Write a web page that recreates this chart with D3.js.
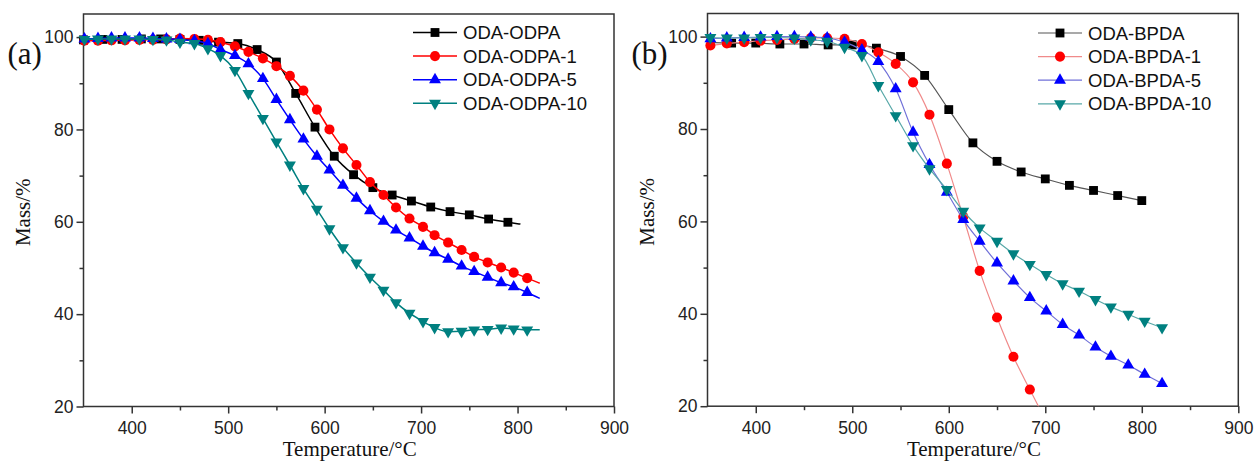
<!DOCTYPE html>
<html><head><meta charset="utf-8">
<script src="https://cdn.jsdelivr.net/npm/d3@7"></script>
<style>body{margin:0;background:#fff} svg{display:block}</style>
</head><body>
<svg id="chart" width="1255" height="461"></svg>
<script>
// ---------- shared axis ticks ----------
const xTicks = [400, 500, 600, 700, 800, 900];
const xMinor = [450, 550, 650, 750, 850];
const yTicks = [20, 40, 60, 80, 100];
const yMinor = [30, 50, 70, 90];

// ---------- panel (a) ----------
const aNames = ["ODA-ODPA", "ODA-ODPA-1", "ODA-ODPA-5", "ODA-ODPA-10"];
const aBlackT = [350,370,390,410,430,450,470,490,510,530,550,570,590,610,630,650,670,690,710,730,750,770,790,803];
const aBlackM = [99.4,99.5,99.5,99.6,99.6,99.5,99.3,98.9,98.6,97.3,94.6,87.8,80.5,74.2,70.2,67.4,65.8,64.5,63.2,62.2,61.5,60.6,59.9,59.5];
const aGridT = [351,365,379,393,408,422,436,450,465,479,492,507,521,536,550,564,578,592,605,619,633,647,661,674,688,702,714,728,742,755,769,783,796,810,823];
const aRedM  = [99.2,99.2,99.3,99.3,99.4,99.4,99.5,99.7,99.6,99.4,98.9,98.0,96.8,95.4,93.7,91.6,88.4,84.3,80.0,75.9,72.3,68.6,65.8,63.1,60.7,58.9,57.1,55.5,53.9,52.4,51.2,50.1,49.0,47.8,46.7];
const aBlueM = [99.6,99.7,99.8,99.8,99.8,99.7,99.6,99.5,99.2,98.6,97.3,96.0,94.2,91.0,86.5,82.1,77.9,74.2,71.2,67.9,65.1,62.4,60.1,58.2,56.5,54.7,53.3,51.9,50.4,49.2,48.0,46.8,45.9,44.7,43.4];
const aTealM = [99.5,99.6,99.6,99.6,99.6,99.5,99.4,98.9,98.6,97.5,96.0,92.8,87.8,82.4,77.3,72.3,67.2,62.7,58.5,54.4,51.1,48.0,45.2,42.5,40.2,38.4,37.1,36.2,36.3,36.6,36.7,37.0,36.8,36.6,36.6];

// ---------- panel (b) ----------
const bNames = ["ODA-BPDA", "ODA-BPDA-1", "ODA-BPDA-5", "ODA-BPDA-10"];
const bBlackT = [350,375,400,425,450,475,500,525,550,575,600,625,650,675,700,725,750,775,800];
const bBlackM = [98.8,98.6,98.6,98.4,98.4,98.2,98.2,97.5,95.7,91.6,84.2,77.0,73.0,70.7,69.2,67.8,66.7,65.6,64.5];
const bGridT = [353,370,388,405,422,440,457,474,492,510,527,545,563,580,598,615,632,650,667,684,701,718,735,752,768,786,803,821];
const bRedT  = [353,370,388,405,422,440,457,474,492,510,527,545,563,580,598,615,632,650,667,684,702];
const bRedM  = [98.1,98.5,98.8,99.1,99.3,99.5,99.7,99.7,99.5,98.4,96.6,94.1,90.1,83.1,72.5,61.0,49.3,39.2,30.7,23.6,16.3];
const bBlueM = [99.5,99.7,99.8,99.9,100.0,100.0,99.9,99.7,98.8,97.1,94.6,88.7,79.3,72.3,66.3,60.4,55.7,51.0,47.1,43.5,40.6,37.7,35.4,32.8,30.8,28.9,26.9,24.9];
const bTealM = [99.8,99.7,99.7,99.8,99.8,99.7,99.3,99.0,97.7,95.9,89.4,82.9,76.4,71.4,66.9,62.2,58.6,55.7,53.0,50.7,48.5,46.5,44.9,43.1,41.5,39.9,38.4,37.0];

const COLORS = ["#000000", "#ff0000", "#0000ff", "#008080"];
const LIGHT = ["#555555", "#f08a8a", "#7070d8", "#58a8a8"];
const SYMS = [d3.symbolSquare, d3.symbolCircle, d3.symbolTriangle, d3.symbolTriangle];
const SIZES = [78, 80, 62, 62];
const ROT = [0, 0, 0, 180];

const svg = d3.select("#chart");
const TICKFONT = "Arial, 'Liberation Sans', sans-serif";
const SERIF = "'Times New Roman', 'Liberation Serif', serif";

function zip(T, M) { return T.map((t, i) => ({t: t, m: M[i]})); }

function drawPanel(p) {
  const x = d3.scaleLinear().domain([350, 900]).range([p.left, p.right]);
  const y = d3.scaleLinear().domain([20, 105]).range([p.bottom, p.top]);
  const g = svg.append("g");

  const clipId = "clip-" + p.id;
  svg.append("clipPath").attr("id", clipId).append("rect")
    .attr("x", p.left).attr("y", p.top)
    .attr("width", p.right - p.left).attr("height", p.bottom - p.top);

  // axes
  const styleAxis = sel => {
    sel.select(".domain").remove();
    sel.selectAll(".tick line").attr("stroke", "#333").attr("stroke-width", 1.5);
    sel.selectAll(".tick text").attr("fill", "#222")
      .style("font-family", TICKFONT).style("font-size", "17.5px");
  };
  g.append("g").attr("transform", `translate(${p.left},0)`)
    .call(d3.axisLeft(y).tickValues(yTicks).tickSize(7).tickPadding(3).tickFormat(d3.format("d")))
    .call(styleAxis);
  g.append("g").attr("transform", `translate(${p.left},0)`)
    .call(d3.axisLeft(y).tickValues(yMinor).tickSize(4).tickFormat(""))
    .call(styleAxis);
  g.append("g").attr("transform", `translate(0,${p.bottom})`)
    .call(d3.axisBottom(x).tickValues(xTicks).tickSize(7).tickPadding(8).tickFormat(d3.format("d")))
    .call(styleAxis);
  g.append("g").attr("transform", `translate(0,${p.bottom})`)
    .call(d3.axisBottom(x).tickValues(xMinor).tickSize(4).tickFormat(""))
    .call(styleAxis);

  // frame
  g.append("rect").attr("x", p.left).attr("y", p.top)
    .attr("width", p.right - p.left).attr("height", p.bottom - p.top)
    .attr("fill", "none").attr("stroke", "#333").attr("stroke-width", 1.5);

  // series
  const line = d3.line().x(d => x(d.t)).y(d => y(d.m)).curve(d3.curveMonotoneX);
  p.series.forEach((s, i) => {
    const data = zip(s.T, s.M);
    g.append("path").datum(data)
      .attr("clip-path", `url(#${clipId})`)
      .attr("fill", "none")
      .attr("stroke", p.lineColors[i])
      .attr("stroke-width", p.lineWidth)
      .attr("d", line);
    const marked = data.filter((d, k) => !s.noMark.includes(k) && d.m >= 20);
    g.selectAll(null).data(marked).enter().append("path")
      .attr("d", d3.symbol().type(SYMS[i]).size(SIZES[i]))
      .attr("transform", d => `translate(${x(d.t)},${y(d.m)}) rotate(${ROT[i]})`)
      .attr("fill", COLORS[i]);
  });

  // legend
  p.names.forEach((n, i) => {
    const yy = p.legY + i * 23.6;
    g.append("line").attr("x1", p.legX).attr("x2", p.legX + 44)
      .attr("y1", yy).attr("y2", yy)
      .attr("stroke", p.lineColors[i]).attr("stroke-width", p.lineWidth);
    g.append("path").attr("d", d3.symbol().type(SYMS[i]).size(SIZES[i]))
      .attr("transform", `translate(${p.legX + 22},${yy}) rotate(${ROT[i]})`)
      .attr("fill", COLORS[i]);
    g.append("text").attr("x", p.legX + 50).attr("y", yy).attr("dy", "0.36em")
      .style("font-family", TICKFONT).style("font-size", "18.5px").attr("fill", "#111")
      .text(n);
  });

  // axis titles
  g.append("text").attr("x", (p.left + p.right) / 2 + 1).attr("y", 456)
    .attr("text-anchor", "middle").style("font-family", SERIF).style("font-size", "21px")
    .attr("fill", "#111").text("Temperature/°C");
  g.append("text").attr("transform", `translate(${p.left - 53.5},${(p.top + p.bottom) / 2 + 2}) rotate(-90)`)
    .attr("text-anchor", "middle").style("font-family", SERIF).style("font-size", "21px")
    .attr("fill", "#111").text("Mass/%");
  // panel letter
  g.append("text").attr("x", p.left - 76).attr("y", 64)
    .style("font-family", SERIF).style("font-size", "31px").attr("fill", "#111")
    .text(p.letter);
}

drawPanel({
  id: "a", letter: "(a)", left: 83.5, right: 614, top: 14, bottom: 406.5,
  legX: 413, legY: 32.5, names: aNames, lineColors: COLORS, lineWidth: 1.5,
  series: [
    {T: aBlackT, M: aBlackM, noMark: [aBlackT.length - 1]},
    {T: aGridT, M: aRedM, noMark: [aGridT.length - 1]},
    {T: aGridT, M: aBlueM, noMark: [aGridT.length - 1]},
    {T: aGridT, M: aTealM, noMark: [aGridT.length - 1]}
  ]
});

drawPanel({
  id: "b", letter: "(b)", left: 707.5, right: 1238.3, top: 13.5, bottom: 406.2,
  legX: 1038, legY: 33, names: bNames, lineColors: LIGHT, lineWidth: 1.2,
  series: [
    {T: bBlackT, M: bBlackM, noMark: [0]},
    {T: bRedT, M: bRedM, noMark: [bRedT.length - 1]},
    {T: bGridT, M: bBlueM, noMark: []},
    {T: bGridT, M: bTealM, noMark: []}
  ]
});
</script>
</body></html>
